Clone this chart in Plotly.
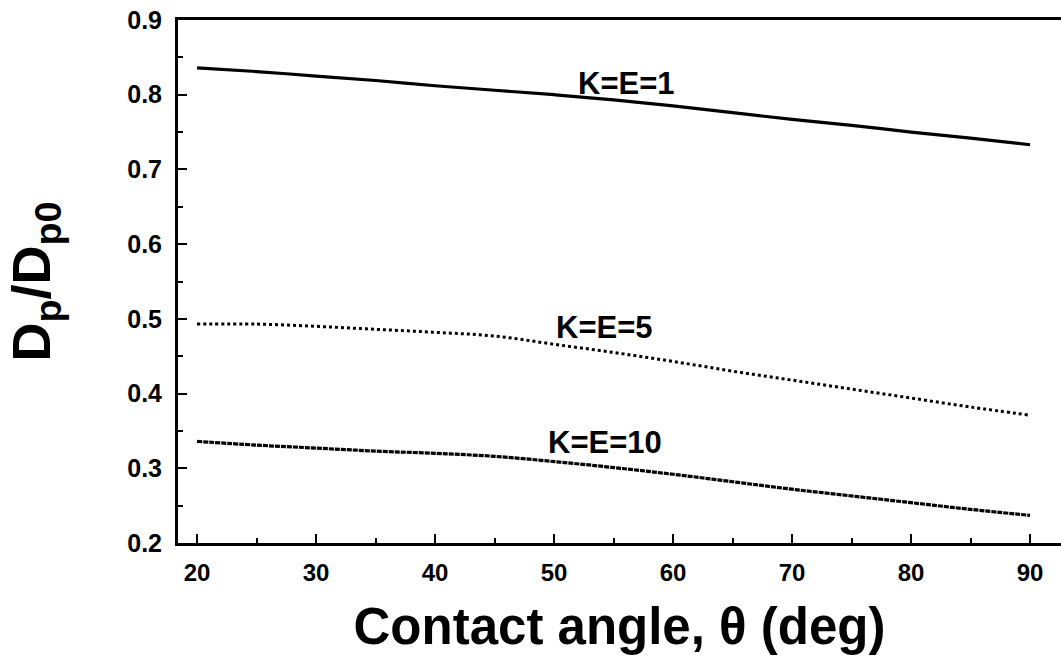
import plotly.graph_objects as go

theta = [20, 25, 30, 35, 40, 45, 50, 55, 60, 65, 70, 75, 80, 85, 90]
ke1 = [0.836, 0.831, 0.825, 0.819, 0.812, 0.806, 0.800, 0.793, 0.785, 0.776, 0.767, 0.759, 0.750, 0.742, 0.733]
ke5 = [0.493, 0.493, 0.490, 0.486, 0.482, 0.477, 0.466, 0.455, 0.443, 0.430, 0.418, 0.406, 0.394, 0.382, 0.371]
ke10 = [0.336, 0.331, 0.327, 0.323, 0.320, 0.316, 0.309, 0.301, 0.292, 0.282, 0.272, 0.263, 0.254, 0.245, 0.237]

labels = ["K=E=1", "K=E=5", "K=E=10"]
label_x = [56.1, 54.2, 54.3]
label_y = [0.815, 0.488, 0.335]

fig = go.Figure()
fig.add_trace(go.Scatter(x=theta, y=ke1, mode="lines", line=dict(color="black", width=3.2), line_shape="spline"))
fig.add_trace(go.Scatter(x=theta, y=ke5, mode="lines", line=dict(color="black", width=3, dash="dot"), line_shape="spline"))
fig.add_trace(go.Scatter(x=theta, y=ke10, mode="lines", line=dict(color="black", width=3.2, dash="5px,1px"), line_shape="spline"))

for t, lx, ly in zip(labels, label_x, label_y):
    fig.add_annotation(x=lx, y=ly, text=t, showarrow=False, xanchor="center", yanchor="middle",
                       font=dict(family="Liberation Sans", size=31, color="black", weight="bold"))

fig.update_layout(
    width=1061, height=659,
    margin=dict(l=178, r=0, t=20, b=116),
    paper_bgcolor="white", plot_bgcolor="white",
    showlegend=False,
    font=dict(family="Liberation Sans", color="black"),
)
fig.update_xaxes(
    range=[18.4, 92.6], showgrid=False, zeroline=False,
    showline=True, linecolor="black", linewidth=3, mirror=True,
    ticks="inside", ticklen=9, tickwidth=1.5, tickcolor="black",
    tickmode="array", tickvals=[20, 30, 40, 50, 60, 70, 80, 90],
    minor=dict(ticks="inside", ticklen=5, tickwidth=1.5, tickcolor="black", dtick=5, tick0=0),
    ticklabelstandoff=6,
    tickfont=dict(family="Liberation Sans Narrow, Liberation Sans", size=24, color="black", weight="bold"),
    title=dict(text="Contact angle, θ (deg)", standoff=24,
               font=dict(family="Liberation Sans", size=51, color="black", weight="bold")),
)
fig.update_yaxes(
    range=[0.2, 0.9], showgrid=False, zeroline=False,
    showline=True, linecolor="black", linewidth=3,
    ticks="inside", ticklen=9, tickwidth=1.5, tickcolor="black",
    tickmode="array", tickvals=[0.2, 0.3, 0.4, 0.5, 0.6, 0.7, 0.8, 0.9],
    ticktext=["0.2", "0.3", "0.4", "0.5", "0.6", "0.7", "0.8", "0.9"],
    minor=dict(ticks="inside", ticklen=5, tickwidth=1.5, tickcolor="black", dtick=0.05, tick0=0),
    ticklabelstandoff=8,
    tickfont=dict(family="Liberation Sans", size=25, color="black", weight="bold"),
    title=dict(text="D<sub>p</sub>/D<sub>p0</sub>", standoff=60,
               font=dict(family="Liberation Sans", size=54, color="black", weight="bold")),
)

fig.write_html("out.html")
